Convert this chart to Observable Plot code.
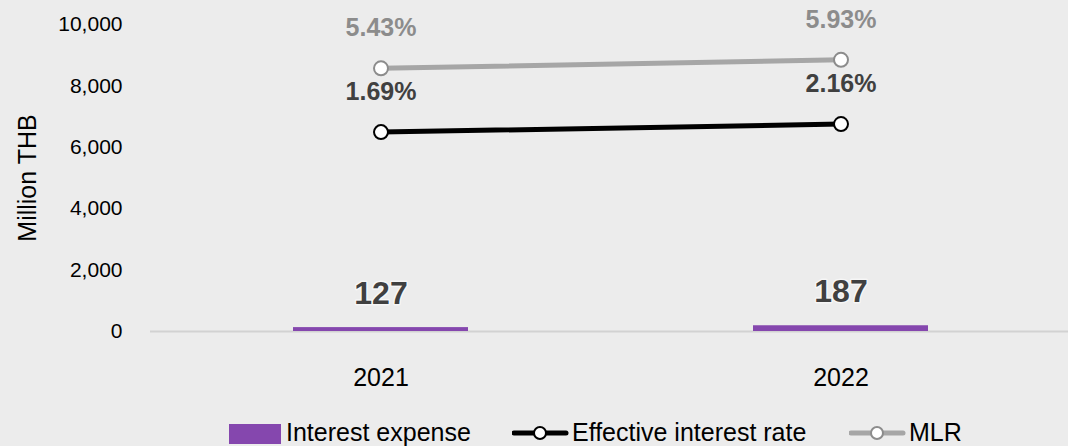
<!DOCTYPE html>
<html>
<head>
<meta charset="utf-8">
<script src="https://cdn.jsdelivr.net/npm/d3@7"></script>
<script src="https://cdn.jsdelivr.net/npm/@observablehq/plot@0.6"></script>
<style>
  html, body { margin: 0; padding: 0; background: #ececec; }
  body { width: 1068px; height: 446px; overflow: hidden; font-family: "Liberation Sans", Arial, sans-serif; }
  #legend { position: relative; width: 1068px; height: 36px; }
  #legend span { position: absolute; font-size: 25px; color: #000; line-height: 25px; top: 10px; white-space: nowrap; }
</style>
</head>
<body>
<div id="chart"></div>
<div id="legend"></div>
<script>
// ---- data ----
const years = ["2021", "2022"];
const interestExpense = [127, 187];          // Million THB
const effectiveRate = [1.69, 2.16];          // %
const mlrRate = [5.43, 5.93];                // %
const yTicks = [0, 2000, 4000, 6000, 8000, 10000];
const rateAxisDomain = [-10, 8];             // hidden secondary axis (%)
const seriesNames = ["Interest expense", "Effective interest rate", "MLR"];

// ---- styles ----
const purple = "#8547ae";
const effColor = "#000000";
const mlrColor = "#a6a6a6";

const rateToY = d3.scaleLinear().domain(rateAxisDomain).range([0, 10000]);

const rows = years.map((y, i) => ({
  year: y,
  expense: interestExpense[i],
  eff: effectiveRate[i],
  mlr: mlrRate[i]
}));

const chart = Plot.plot({
  width: 1068,
  height: 410,
  marginTop: 24,
  marginBottom: 79,
  marginLeft: 150,
  marginRight: 0,
  style: { background: "#ececec", fontFamily: "'Liberation Sans', Arial, sans-serif", color: "#000" },
  x: { type: "band", domain: years, range: [150, 1070], paddingInner: 0.62, paddingOuter: 0.31, align: 0.5 },
  y: { domain: [0, 10000], range: [331, 24] },
  marks: [
    Plot.axisY({ ticks: yTicks, tickFormat: d3.format(","), tickSize: 0, tickPadding: 28, fontSize: 21, label: null }),
    Plot.axisX({ tickSize: 0, tickPadding: 37, fontSize: 25, label: null }),
    Plot.text(["Million THB"], { frameAnchor: "left", textAnchor: "middle", rotate: -90, dx: -123, fontSize: 25, fill: "#000" }),
    Plot.ruleY([0], { stroke: "#d2d2d2", strokeWidth: 2 }),
    Plot.barY(rows, { x: "year", y: "expense", fill: purple }),
    Plot.text(rows, { x: "year", y: "expense", text: d => String(d.expense), dy: -34, fontSize: 32, fontWeight: "bold", fill: "#404040", stroke: "white", strokeOpacity: 0.55, strokeWidth: 3 }),
    Plot.line(rows, { x: "year", y: d => rateToY(d.mlr), stroke: mlrColor, strokeWidth: 5 }),
    Plot.dot(rows, { x: "year", y: d => rateToY(d.mlr), r: 7, fill: "white", stroke: "#8c8c8c", strokeWidth: 2 }),
    Plot.text(rows, { x: "year", y: d => rateToY(d.mlr), text: d => d.mlr.toFixed(2) + "%", dy: -40, fontSize: 25, fontWeight: "bold", fill: "#8c8c8c" }),
    Plot.line(rows, { x: "year", y: d => rateToY(d.eff), stroke: effColor, strokeWidth: 5 }),
    Plot.dot(rows, { x: "year", y: d => rateToY(d.eff), r: 7, fill: "white", stroke: "#000", strokeWidth: 2 }),
    Plot.text(rows, { x: "year", y: d => rateToY(d.eff), text: d => d.eff.toFixed(2) + "%", dy: -40, fontSize: 25, fontWeight: "bold", fill: "#404040" })
  ]
});
document.getElementById("chart").appendChild(chart);

// ---- legend (HTML below the SVG) ----
const legend = document.getElementById("legend");
const items = [
  { name: seriesNames[0], type: "bar", color: purple, x: 229, tx: 286 },
  { name: seriesNames[1], type: "line", color: effColor, dot: "#000", x: 512, tx: 572 },
  { name: seriesNames[2], type: "line", color: mlrColor, dot: "#8c8c8c", x: 849, tx: 909 }
];
const ns = "http://www.w3.org/2000/svg";
items.forEach(it => {
  const svg = document.createElementNS(ns, "svg");
  svg.setAttribute("width", 60);
  svg.setAttribute("height", 36);
  svg.style.position = "absolute";
  svg.style.left = it.x + "px";
  svg.style.top = "0px";
  if (it.type === "bar") {
    const r = document.createElementNS(ns, "rect");
    r.setAttribute("x", 0); r.setAttribute("y", 14); r.setAttribute("width", 52); r.setAttribute("height", 20);
    r.setAttribute("fill", it.color);
    svg.appendChild(r);
  } else {
    const l = document.createElementNS(ns, "line");
    l.setAttribute("x1", 2); l.setAttribute("x2", 54); l.setAttribute("y1", 23); l.setAttribute("y2", 23);
    l.setAttribute("stroke", it.color); l.setAttribute("stroke-width", 5); l.setAttribute("stroke-linecap", "round");
    svg.appendChild(l);
    const c = document.createElementNS(ns, "circle");
    c.setAttribute("cx", 28); c.setAttribute("cy", 23); c.setAttribute("r", 6);
    c.setAttribute("fill", "white"); c.setAttribute("stroke", it.dot); c.setAttribute("stroke-width", 2);
    svg.appendChild(c);
  }
  legend.appendChild(svg);
  const s = document.createElement("span");
  s.textContent = it.name;
  s.style.left = it.tx + "px";
  legend.appendChild(s);
});
</script>
</body>
</html>
